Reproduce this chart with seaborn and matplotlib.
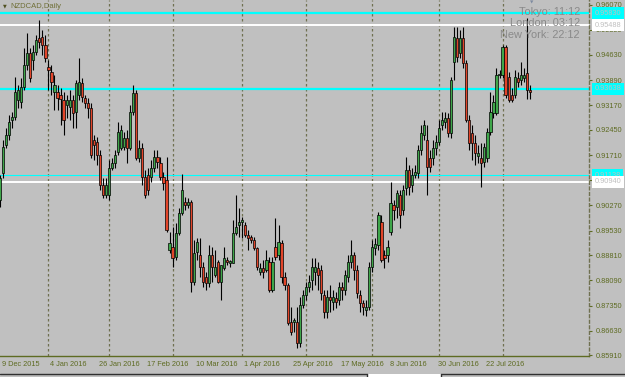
import numpy as np
import pandas as pd
import matplotlib
matplotlib.use("Agg")
import matplotlib.pyplot as plt
import seaborn as sns
from matplotlib.transforms import blended_transform_factory, ScaledTranslation
from matplotlib.patches import Rectangle
from matplotlib.lines import Line2D

# ---------------- data ----------------
symbol_title = "NZDCAD,Daily"
clock_labels = ["Tokyo: 11:12", "London: 03:12", "New York: 22:12"]

opens = [
    0.9042, 0.9120, 0.9201, 0.9230, 0.9274, 0.9282, 0.9332, 0.9326, 0.9369, 0.9433,
    0.9468, 0.9448, 0.9471, 0.9511, 0.9514, 0.9491, 0.9427, 0.9413, 0.9355, 0.9355,
    0.9346, 0.9332, 0.9317, 0.9311, 0.9332, 0.9297, 0.9346, 0.9381, 0.9337, 0.9323,
    0.9308, 0.9216, 0.9210, 0.9172, 0.9085, 0.9056, 0.9056, 0.9134, 0.9149, 0.9181,
    0.9192, 0.9195, 0.9221, 0.9192, 0.9297, 0.9352, 0.9163, 0.9192, 0.9108, 0.9114,
    0.9108, 0.9134, 0.9166, 0.9149, 0.9108, 0.9100, 0.8897, 0.8905, 0.8876, 0.8946,
    0.9004, 0.9036, 0.9027, 0.9036, 0.8804, 0.8891, 0.8882, 0.8847, 0.8818, 0.8801,
    0.8882, 0.8824, 0.8862, 0.8804, 0.8844, 0.8868, 0.8859, 0.8859, 0.8946, 0.8969,
    0.8978, 0.8969, 0.8940, 0.8934, 0.8926, 0.8902, 0.8833, 0.8844, 0.8839, 0.8862,
    0.8780, 0.8905, 0.8882, 0.8917, 0.8818, 0.8795, 0.8688, 0.8688, 0.8688, 0.8627,
    0.8737, 0.8766, 0.8789, 0.8810, 0.8833, 0.8844, 0.8839, 0.8766, 0.8717, 0.8760,
    0.8746, 0.8757, 0.8752, 0.8789, 0.8780, 0.8818, 0.8862, 0.8882, 0.8839, 0.8766,
    0.8743, 0.8723, 0.8731, 0.8847, 0.8902, 0.8911, 0.8978, 0.8882, 0.8882, 0.8949,
    0.9027, 0.9021, 0.9056, 0.9013, 0.9076, 0.9129, 0.9085, 0.9114, 0.9120, 0.9187,
    0.9230, 0.9216, 0.9163, 0.9163, 0.9192, 0.9210, 0.9259, 0.9268, 0.9279, 0.9236,
    0.9442, 0.9511, 0.9468, 0.9511, 0.9439, 0.9274, 0.9236, 0.9207, 0.9169, 0.9163,
    0.9152, 0.9163, 0.9239, 0.9294, 0.9294, 0.9404, 0.9404, 0.9485, 0.9398, 0.9346,
    0.9346, 0.9395, 0.9390, 0.9395, 0.9410, 0.9360,
]
highs = [
    0.9114, 0.9216, 0.9250, 0.9288, 0.9297, 0.9398, 0.9375, 0.9395, 0.9482, 0.9526,
    0.9482, 0.9491, 0.9520, 0.9564, 0.9535, 0.9520, 0.9448, 0.9433, 0.9404, 0.9375,
    0.9366, 0.9355, 0.9346, 0.9360, 0.9346, 0.9390, 0.9453, 0.9395, 0.9346, 0.9337,
    0.9323, 0.9230, 0.9224, 0.9187, 0.9105, 0.9105, 0.9158, 0.9163, 0.9187, 0.9268,
    0.9259, 0.9239, 0.9245, 0.9317, 0.9375, 0.9361, 0.9216, 0.9207, 0.9129, 0.9134,
    0.9158, 0.9187, 0.9187, 0.9166, 0.9123, 0.9166, 0.8949, 0.8963, 0.8975, 0.9018,
    0.9117, 0.9050, 0.9047, 0.9042, 0.8926, 0.8931, 0.8931, 0.8862, 0.8833, 0.8911,
    0.8905, 0.8897, 0.8868, 0.8853, 0.8905, 0.8876, 0.8868, 0.8984, 0.9056, 0.9018,
    0.8992, 0.8978, 0.8955, 0.8940, 0.8934, 0.8905, 0.8859, 0.8868, 0.8897, 0.8876,
    0.8876, 0.8989, 0.8969, 0.8926, 0.8833, 0.8801, 0.8731, 0.8699, 0.8731, 0.8760,
    0.8780, 0.8804, 0.8824, 0.8873, 0.8873, 0.8862, 0.8853, 0.8780, 0.8780, 0.8795,
    0.8780, 0.8775, 0.8804, 0.8804, 0.8839, 0.8882, 0.8926, 0.8891, 0.8853, 0.8780,
    0.8752, 0.8752, 0.8862, 0.8926, 0.8931, 0.9007, 0.8998, 0.8897, 0.8926, 0.9094,
    0.9042, 0.9071, 0.9071, 0.9085, 0.9166, 0.9143, 0.9134, 0.9143, 0.9201, 0.9259,
    0.9274, 0.9259, 0.9187, 0.9216, 0.9230, 0.9274, 0.9297, 0.9297, 0.9294, 0.9398,
    0.9543, 0.9543, 0.9535, 0.9543, 0.9448, 0.9288, 0.9259, 0.9230, 0.9201, 0.9207,
    0.9207, 0.9250, 0.9355, 0.9346, 0.9424, 0.9419, 0.9491, 0.9491, 0.9413, 0.9366,
    0.9419, 0.9413, 0.9442, 0.9424, 0.9569, 0.9375,
]
lows = [
    0.9021, 0.9105, 0.9192, 0.9216, 0.9250, 0.9274, 0.9308, 0.9308, 0.9360, 0.9419,
    0.9384, 0.9419, 0.9462, 0.9482, 0.9462, 0.9442, 0.9360, 0.9346, 0.9303, 0.9303,
    0.9259, 0.9230, 0.9279, 0.9274, 0.9250, 0.9250, 0.9332, 0.9326, 0.9308, 0.9279,
    0.9163, 0.9158, 0.9143, 0.9071, 0.9047, 0.9047, 0.9042, 0.9129, 0.9134, 0.9172,
    0.9187, 0.9187, 0.9149, 0.9187, 0.9288, 0.9158, 0.9152, 0.9085, 0.9047, 0.9056,
    0.9094, 0.9123, 0.9134, 0.9100, 0.9071, 0.8949, 0.8888, 0.8847, 0.8868, 0.8940,
    0.8998, 0.9013, 0.9018, 0.8775, 0.8795, 0.8868, 0.8818, 0.8789, 0.8781, 0.8789,
    0.8804, 0.8818, 0.8801, 0.8752, 0.8839, 0.8853, 0.8847, 0.8859, 0.8940, 0.8934,
    0.8931, 0.8934, 0.8897, 0.8917, 0.8897, 0.8839, 0.8824, 0.8815, 0.8833, 0.8775,
    0.8775, 0.8868, 0.8868, 0.8801, 0.8780, 0.8679, 0.8650, 0.8659, 0.8612, 0.8615,
    0.8728, 0.8752, 0.8775, 0.8780, 0.8795, 0.8780, 0.8752, 0.8699, 0.8699, 0.8717,
    0.8723, 0.8728, 0.8737, 0.8752, 0.8766, 0.8804, 0.8844, 0.8810, 0.8757, 0.8717,
    0.8708, 0.8705, 0.8723, 0.8833, 0.8882, 0.8897, 0.8862, 0.8844, 0.8862, 0.8940,
    0.8984, 0.8989, 0.8960, 0.8998, 0.9056, 0.9056, 0.9065, 0.9105, 0.9105, 0.9172,
    0.9216, 0.9056, 0.9123, 0.9143, 0.9172, 0.9201, 0.9245, 0.9250, 0.9224, 0.9221,
    0.9390, 0.9442, 0.9453, 0.9424, 0.9268, 0.9187, 0.9158, 0.9143, 0.9149, 0.9079,
    0.9137, 0.9152, 0.9230, 0.9279, 0.9288, 0.9395, 0.9395, 0.9337, 0.9326, 0.9326,
    0.9337, 0.9369, 0.9375, 0.9384, 0.9334, 0.9334,
]
closes = [
    0.9105, 0.9195, 0.9230, 0.9268, 0.9282, 0.9355, 0.9360, 0.9369, 0.9433, 0.9468,
    0.9395, 0.9471, 0.9506, 0.9500, 0.9491, 0.9453, 0.9419, 0.9384, 0.9375, 0.9337,
    0.9334, 0.9274, 0.9332, 0.9332, 0.9294, 0.9381, 0.9384, 0.9340, 0.9323, 0.9308,
    0.9172, 0.9201, 0.9172, 0.9085, 0.9056, 0.9085, 0.9134, 0.9149, 0.9172, 0.9239,
    0.9245, 0.9221, 0.9192, 0.9297, 0.9352, 0.9163, 0.9192, 0.9108, 0.9056, 0.9071,
    0.9134, 0.9166, 0.9152, 0.9108, 0.9091, 0.8955, 0.8917, 0.8873, 0.8946, 0.9004,
    0.9071, 0.9027, 0.9036, 0.8804, 0.8888, 0.8920, 0.8847, 0.8804, 0.8801, 0.8882,
    0.8847, 0.8847, 0.8804, 0.8853, 0.8873, 0.8862, 0.8865, 0.8946, 0.8963, 0.8978,
    0.8984, 0.8940, 0.8931, 0.8926, 0.8902, 0.8847, 0.8844, 0.8833, 0.8868, 0.8780,
    0.8862, 0.8876, 0.8920, 0.8818, 0.8795, 0.8685, 0.8659, 0.8694, 0.8627, 0.8737,
    0.8766, 0.8789, 0.8804, 0.8847, 0.8847, 0.8824, 0.8772, 0.8717, 0.8760, 0.8752,
    0.8760, 0.8746, 0.8789, 0.8780, 0.8824, 0.8862, 0.8882, 0.8839, 0.8772, 0.8743,
    0.8731, 0.8731, 0.8847, 0.8905, 0.8914, 0.8998, 0.8868, 0.8873, 0.8905, 0.9033,
    0.9013, 0.9062, 0.8998, 0.9071, 0.9129, 0.9079, 0.9114, 0.9123, 0.9187, 0.9236,
    0.9259, 0.9137, 0.9137, 0.9192, 0.9210, 0.9250, 0.9274, 0.9279, 0.9236, 0.9390,
    0.9514, 0.9456, 0.9511, 0.9439, 0.9274, 0.9207, 0.9207, 0.9178, 0.9178, 0.9149,
    0.9195, 0.9239, 0.9297, 0.9326, 0.9404, 0.9407, 0.9485, 0.9346, 0.9332, 0.9332,
    0.9398, 0.9384, 0.9404, 0.9404, 0.9360, 0.9355,
]

cyan_levels = [0.95830, 0.93638]
cyan_thin_levels = [0.91138]
white_levels = [0.95488, 0.90940]
price_ticks = [0.96070, 0.95350, 0.94630, 0.93890, 0.93170, 0.92450, 0.91710,
               0.90990, 0.90270, 0.89530, 0.88810, 0.88090, 0.87350, 0.86630, 0.85910]
first_day = "2015-12-09"
last_day = "2016-08-12"
closed_days = ["2015-12-25", "2016-01-01"]
label_every = 16

# ---------------- build table ----------------
dates = pd.bdate_range(first_day, last_day)
dates = dates[~dates.isin(pd.to_datetime(closed_days))][: len(closes)]
df = pd.DataFrame({"date": dates, "open": opens, "high": highs,
                   "low": lows, "close": closes})
df["idx"] = np.arange(len(df))
df["bull"] = df["close"] >= df["open"]

# ---------------- style ----------------
BG = "#C0C0C0"
FG = "#5E6B22"
GRID = "#6F7050"
BULL = "#3FA64A"
BEAR = "#E2452A"
sns.set_theme(style="white", rc={"axes.facecolor": BG, "figure.facecolor": BG})
plt.rcParams["font.family"] = ["Liberation Sans", "DejaVu Sans"]

W, H = 625, 377
fig = plt.figure(figsize=(W / 100, H / 100), dpi=100, facecolor=BG)
ax = fig.add_axes([0, 21 / H, 589 / W, 356 / H])
ax.set_facecolor(BG)

px_per_bar = 3.03
ax.set_xlim((0 + 0.5) / px_per_bar, (589 + 0.5) / px_per_bar)
ax.set_ylim(0.85891, 0.96215)

# month grid
month_start = df.groupby(df["date"].dt.to_period("M"))["idx"].min().values[1:]
for m in month_start:
    ax.axvline(m, color=GRID, lw=0.9, ls=(0, (2, 2)), zorder=1)

# horizontal levels
for lv in cyan_levels:
    ax.axhline(lv, color="#00FFFF", lw=1.6, zorder=2)
for lv in cyan_thin_levels:
    ax.axhline(lv, color="#00FFFF", lw=0.8, zorder=2)
for lv in white_levels:
    ax.axhline(lv, color="#FFFFFF", lw=1.4, zorder=2)

# candles: wicks then bodies
ax.vlines(df["idx"], df["low"], df["high"], color="black", lw=0.8, zorder=3)
body_lo = np.minimum(df["open"], df["close"])
body_h = np.maximum(np.abs(df["close"] - df["open"]), 0.00018)
ax.bar(df["idx"], body_h, bottom=body_lo, width=0.72,
       color=np.where(df["bull"], BULL, BEAR), edgecolor="black",
       linewidth=0.5, zorder=4)

# spines
for s in ["top", "left"]:
    ax.spines[s].set_visible(False)
ax.spines["bottom"].set_color(FG)
ax.spines["bottom"].set_linewidth(1.0)
ax.spines["right"].set_color(GRID)
ax.spines["right"].set_linewidth(1.0)
ax.spines["right"].set_linestyle((0, (2, 2)))

# y axis on the right
ax.yaxis.tick_right()
ax.set_yticks(price_ticks)
ax.set_yticklabels([f"{v:.5f}" for v in price_ticks])
ax.tick_params(axis="y", direction="out", length=2.5, width=0.8, pad=2.0,
               labelsize=5.3, colors=FG, labelcolor=FG)

# x axis date labels
label_idx = df["idx"].values[::label_every]
ax.set_xticks(label_idx)
ax.set_xticklabels([])
ax.tick_params(axis="x", direction="out", length=3, width=0.8, colors=FG)
trans = blended_transform_factory(ax.transData, ax.transAxes)
off = ScaledTranslation(2 / 100, -8.5 / 100, fig.dpi_scale_trans)
for i in label_idx:
    d = df.loc[i, "date"]
    ax.text(i, 0, f"{d.day} {d.strftime('%b %Y')}", transform=trans + off,
            ha="left", va="center", fontsize=5.3, color=FG, clip_on=False)

# price labels on the right axis for the lines
ytrans = blended_transform_factory(ax.transAxes, ax.transData)
loff = ScaledTranslation(5.5 / 100, 0, fig.dpi_scale_trans)
for lv in cyan_levels + cyan_thin_levels:
    ax.text(1, lv, f"{lv:.5f}", transform=ytrans + loff, ha="left", va="center",
            fontsize=5.3, color=BG, zorder=10, clip_on=False,
            bbox=dict(boxstyle="square,pad=0.35", fc="#00FFFF", ec="none"))
for lv in white_levels:
    ax.text(1, lv, f"{lv:.5f}", transform=ytrans + loff, ha="left", va="center",
            fontsize=5.3, color=BG, zorder=10, clip_on=False,
            bbox=dict(boxstyle="square,pad=0.35", fc="#FFFFFF", ec="none"))

# title, markers and clocks
fig.text(10 / W, 1 - 7 / H, symbol_title, ha="left", va="center",
         fontsize=5.5, color="#707038")
fig.text(4.5 / W, 1 - 6 / H, "\u25BC", ha="center", va="center",
         fontsize=3.5, color="#505020", family="DejaVu Sans")
fig.text(532 / W, 1 - 2 / H, "\u25BC", ha="center", va="center",
         fontsize=3.2, color="#7D8AA0", family="DejaVu Sans")
for k, lab in enumerate(clock_labels):
    fig.text(580 / W, 1 - (12 + 11.3 * k) / H, lab, ha="right", va="center",
             fontsize=7.9, color="#8A8A8A", zorder=20)

# bottom tab strip of the terminal window
y_line = 1 - 373.5 / H
fig.add_artist(Rectangle((367 / W, 0), (441 - 367) / W, 3.5 / H,
                         transform=fig.transFigure, fc="#FFFFFF", ec="none"))
fig.add_artist(Line2D([0, 367 / W], [y_line, y_line], transform=fig.transFigure,
                      color="#303030", lw=1.0))
fig.add_artist(Line2D([441 / W, 1], [y_line, y_line], transform=fig.transFigure,
                      color="#303030", lw=1.0))
for xv in (367, 441):
    fig.add_artist(Line2D([xv / W, xv / W], [0, y_line], transform=fig.transFigure,
                          color="#303030", lw=1.0))

fig.savefig("out.png", dpi=100, facecolor=BG)
